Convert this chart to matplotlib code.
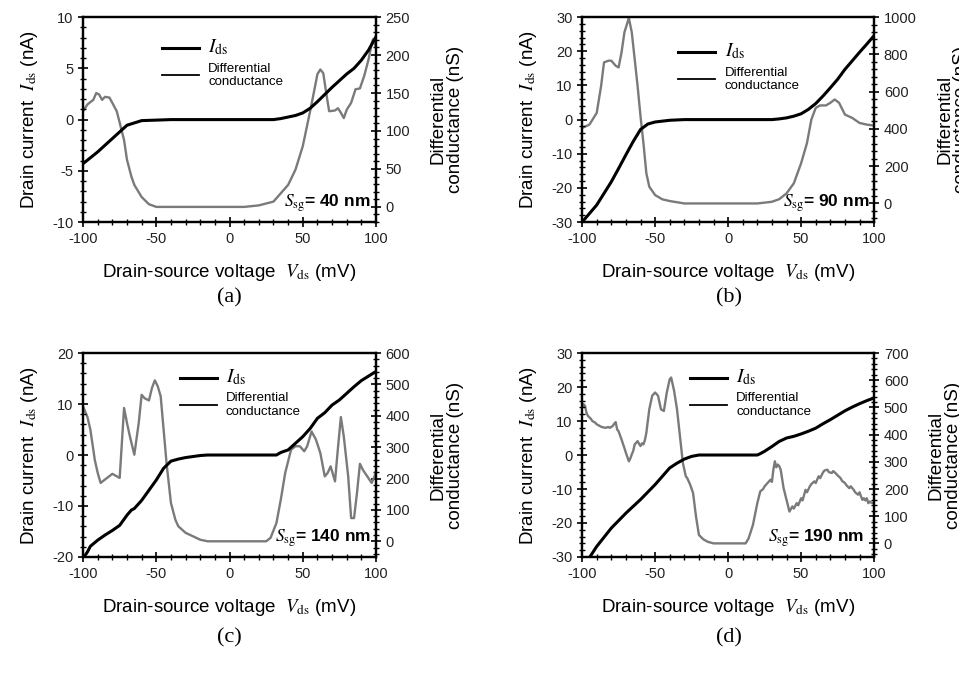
import matplotlib
matplotlib.use("Agg")
import matplotlib.pyplot as plt
from matplotlib.lines import Line2D
from matplotlib.ticker import MultipleLocator, AutoMinorLocator

plt.rcParams['font.family'] = ['Liberation Sans', 'DejaVu Sans']
plt.rcParams['mathtext.fontset'] = 'stix'
plt.rcParams['axes.unicode_minus'] = False

# ---- panel (a), S_sg = 40 nm ----
va_ids = [-100, -90, -80, -70, -60, -50, -40, 30, 35, 45, 50, 55, 60, 65, 70, 75, 80, 85, 90, 95, 100]
ia_ids = [-4.3, -3.15, -1.85, -0.55, -0.1, -0.05, 0, 0, 0.1, 0.4, 0.65, 1.1, 1.75, 2.45, 3.15, 3.8, 4.45, 5.0, 5.8, 6.8, 8.1]
va_g = [-100, -97, -93, -91, -89, -87, -85, -82, -80, -77, -75, -72, -70, -67, -65, -60, -55, -50,
        10, 20, 30, 35, 40, 45, 50, 55, 58, 60, 62, 64, 66, 68, 72, 74, 76, 78, 80, 83, 86, 89, 92,
        95, 97, 98, 100]
ga_g = [126, 135, 141, 150, 148, 141, 145, 144, 137, 126, 111, 88, 62, 40, 29, 13, 3.5, 0,
        0, 2, 7, 18, 29, 49, 80, 126, 155, 175, 181, 176, 150, 126, 127, 130, 124, 117, 128, 137,
        155, 156, 173, 195, 215, 221, 210]

# ---- panel (b), S_sg = 90 nm ----
vb_ids = [-100, -95, -90, -85, -80, -75, -70, -65, -60, -55, -50, -40, -30, 30, 35, 40, 45, 50,
          55, 60, 65, 70, 75, 80, 85, 90, 95, 100]
ib_ids = [-30, -27.5, -25, -21.6, -18.2, -14.3, -10.3, -6.4, -2.9, -1.3, -0.7, -0.2, 0, 0, 0.2,
          0.5, 1.0, 1.7, 3.0, 4.7, 6.9, 9.3, 11.8, 14.7, 17.2, 19.7, 22.1, 24.6]
vb_g = [-100, -95, -90, -87, -85, -82, -80, -77, -75, -73, -71, -68, -66, -64, -62, -60, -58,
        -56, -54, -50, -45, -40, -30, 20, 30, 35, 40, 45, 50, 54, 57, 60, 63, 67, 70, 73, 76, 80,
        85, 90, 95, 100]
gb_g = [405, 423, 486, 630, 757, 766, 766, 739, 730, 811, 919, 995, 919, 775, 630, 468, 324,
        162, 90, 45, 22, 13, 0, 0, 9, 23, 54, 108, 216, 324, 450, 513, 526, 526, 540, 558, 540,
        477, 459, 432, 423, 418]

# ---- panel (c), S_sg = 140 nm ----
vc_ids = [-100, -97, -95, -90, -85, -80, -75, -70, -67, -65, -60, -55, -50, -45, -40, -35, -30,
          -25, -20, -15, 32, 35, 40, 45, 50, 55, 60, 65, 70, 75, 80, 85, 90, 95, 100]
ic_ids = [-20.3, -19, -17.9, -16.7, -15.7, -14.8, -13.8, -11.8, -10.8, -10.5, -8.9, -6.9, -4.9,
          -2.6, -1.2, -0.8, -0.5, -0.3, -0.1, 0, 0, 0.5, 1.0, 2.3, 3.6, 5.2, 7.2, 8.3, 9.8, 10.8,
          12.1, 13.4, 14.6, 15.5, 16.4]
vc_g = [-100, -97, -95, -92, -90, -88, -85, -80, -75, -72, -70, -68, -65, -62, -60, -58, -55,
        -53, -51, -49, -47, -45, -43, -40, -37, -35, -30, -25, -20, -15, 25, 28, 32, 35, 38, 42,
        45, 48, 51, 53, 56, 59, 62, 65, 67, 69, 72, 74, 76, 78, 81, 83, 85, 87, 89, 91, 94, 97,
        99, 100]
gc_g = [430, 396, 356, 260, 218, 186, 197, 215, 202, 425, 377, 334, 276, 377, 467, 456, 449,
        488, 513, 494, 462, 356, 249, 122, 69, 48, 27, 16, 5, 0, 0, 11, 58, 133, 218, 292, 303,
        303, 287, 303, 350, 324, 281, 207, 218, 239, 191, 297, 396, 334, 207, 74, 74, 154, 247,
        228, 207, 186, 207, 223]

# ---- panel (d), S_sg = 190 nm ----
vd_ids = [-100, -90, -80, -70, -60, -50, -40, -35, -30, -25, -20, 20, 22, 25, 30, 35, 40, 45, 50,
          55, 60, 65, 70, 75, 80, 85, 90, 95, 100]
id_ids = [-33.5, -26.9, -21.5, -17.1, -13.1, -8.7, -3.8, -2.4, -1.2, -0.4, 0, 0, 0.4, 1.1, 2.5,
          4.0, 5.0, 5.5, 6.2, 7.0, 7.9, 9.2, 10.4, 11.7, 13.0, 14.1, 15.1, 16.0, 16.8]
vd_g = [-100, -99, -98, -97, -96, -94, -93, -91, -90, -88, -87, -85, -84, -82, -81, -79, -78,
        -77, -76, -75, -73, -71, -70, -68, -67, -66, -65, -64, -63, -62, -61, -60, -59, -58, -57,
        -56, -54, -52, -50, -48, -46, -44, -42, -40, -39, -37, -35, -33, -31, -29, -28, -26, -24,
        -22, -20, -17, -14, -10, 12, 14, 17, 20, 22, 24, 25, 27, 29, 30, 31, 32, 33, 34, 35, 36,
        38, 40, 42, 44, 45, 47, 48, 50, 51, 53, 54, 56, 57, 59, 60, 62, 63, 65, 66, 68, 69, 71,
        72, 74, 75, 77, 78, 80, 81, 83, 84, 86, 87, 89, 90, 91, 92, 93, 94, 95, 96, 97, 98, 100]
gd_g = [499, 512, 506, 480, 469, 458, 450, 444, 438, 432, 429, 426, 425, 428, 425, 432, 440,
        446, 419, 412, 382, 350, 333, 302, 312, 327, 340, 364, 370, 376, 366, 358, 368, 364, 380,
        407, 493, 543, 555, 543, 493, 487, 555, 604, 610, 561, 493, 395, 296, 247, 240, 216, 185,
        99, 31, 15, 6, 0, 0, 18, 68, 148, 191, 200, 210, 222, 234, 226, 271, 302, 280, 290, 284,
        271, 203, 160, 117, 136, 128, 148, 140, 166, 158, 197, 188, 210, 218, 228, 222, 247, 240,
        261, 268, 271, 262, 259, 266, 256, 250, 240, 230, 222, 214, 203, 210, 197, 188, 179, 188,
        173, 160, 166, 158, 166, 148, 154, 150, 148]

# ids data, g data, ids ylim, ids step, g ylim, g step, legend anchor, S_sg text x, value, letter
panels = [
    (va_ids, ia_ids, va_g, ga_g, (-10, 10), 5, (-20, 250), 50, (0.27, 0.90), 0.98, '40', '(a)'),
    (vb_ids, ib_ids, vb_g, gb_g, (-30, 30), 10, (-100, 1000), 200, (0.33, 0.88), 0.983, '90', '(b)'),
    (vc_ids, ic_ids, vc_g, gc_g, (-20, 20), 10, (-50, 600), 100, (0.33, 0.93), 0.983, '140', '(c)'),
    (vd_ids, id_ids, vd_g, gd_g, (-30, 30), 10, (-50, 700), 100, (0.37, 0.93), 0.966, '190', '(d)'),
]

axes_pos = [
    [0.0866, 0.670, 0.3055, 0.3046],
    [0.607, 0.670, 0.3045, 0.3046],
    [0.0866, 0.1724, 0.3055, 0.303],
    [0.607, 0.1724, 0.3045, 0.303],
]
letter_pos = [(0.239, 0.558), (0.760, 0.558), (0.239, 0.052), (0.760, 0.052)]

fig = plt.figure(figsize=(9.59, 6.73), dpi=100)

for k, (vi, ii, vg, gg, ylim, ystep, glim, gstep, leg_at, sx, sval, letter) in enumerate(panels):
    ax = fig.add_axes(axes_pos[k])
    ax2 = ax.twinx()

    ax2.plot(vg, gg, color='#7a7a7a', lw=1.7, zorder=2)
    ax.plot(vi, ii, color='black', lw=2.2, zorder=3)
    ax.set_zorder(ax2.get_zorder() + 1)
    ax.patch.set_visible(False)

    ax.set_xlim(-100, 100)
    ax.set_ylim(*ylim)
    ax2.set_ylim(*glim)
    ax.xaxis.set_major_locator(MultipleLocator(50))
    ax.xaxis.set_minor_locator(AutoMinorLocator(5))
    ax.yaxis.set_major_locator(MultipleLocator(ystep))
    ax.yaxis.set_minor_locator(AutoMinorLocator(5))
    ax2.yaxis.set_major_locator(MultipleLocator(gstep))
    ax2.yaxis.set_minor_locator(AutoMinorLocator(5))

    for a in (ax, ax2):
        for s in a.spines.values():
            s.set_linewidth(1.6)
        a.tick_params(which='major', direction='inout', length=7, width=1.2,
                      labelsize=10.5, labelcolor='#222222')
        a.tick_params(which='minor', direction='inout', length=4, width=1.0)
    ax.tick_params(axis='y', which='both', right=False)
    ax.tick_params(axis='x', which='both', top=False)

    ax.set_xlabel(r'Drain-source voltage  $V_{\rm ds}$ (mV)', fontsize=13.5, labelpad=12)
    ax.set_ylabel(r'Drain current  $I_{\rm ds}$ (nA)', fontsize=13.5, labelpad=9)
    ax2.set_ylabel('Differential\nconductance (nS)', fontsize=13.5, labelpad=14,
                   linespacing=1.0)

    handles = [Line2D([], [], color='black', lw=2.2),
               Line2D([], [], color='black', lw=1.3)]
    leg = ax.legend(handles, [r'$I_{\rm ds}$', 'Differential\nconductance'],
                    loc='upper left', bbox_to_anchor=leg_at, frameon=False,
                    fontsize=9.5, handlelength=2.8, handletextpad=0.7,
                    borderpad=0, borderaxespad=0, labelspacing=0.4)
    leg.get_texts()[0].set_fontsize(14)

    ax.text(sx, 0.09, r'$S_{\rm sg}$' + '= ' + sval + ' nm', transform=ax.transAxes,
            ha='right', va='center', fontsize=12.5, fontweight='bold')

    fig.text(letter_pos[k][0], letter_pos[k][1], letter, ha='center', va='center',
             fontsize=16, family='Liberation Serif')

fig.savefig('out.png', dpi=100)
